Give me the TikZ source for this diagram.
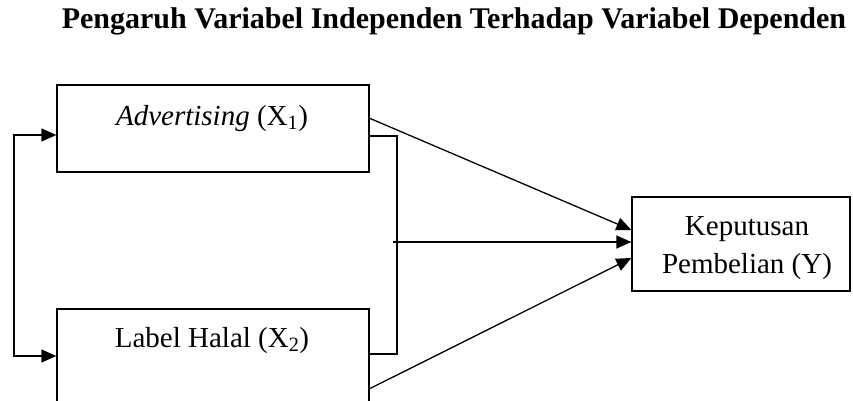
\documentclass[tikz,border=0pt]{standalone}
\usepackage{fontspec}
\setmainfont{Liberation Serif}
\usetikzlibrary{arrows.meta}
\tikzset{
  box/.style={draw, line width=1.3pt, rectangle, inner sep=0pt},
  lbl/.style={font=\fontsize{29}{38}\selectfont, inner sep=0pt, align=center, anchor=base},
  wire/.style={line width=1.3pt},
  tip/.tip={Triangle[length=15pt,width=13pt]},
  arr/.style={line width=1.3pt, -tip},
}
\begin{document}
\begin{tikzpicture}[x=1pt,y=-1pt]
  \useasboundingbox (0,0) rectangle (853,401);
  \begin{scope}
    \clip (0,0) rectangle (853,401);
    % title
    \node[font=\fontsize{30}{36}\selectfont\bfseries, inner sep=0pt, anchor=base] (title) at (454,29)
      {Pengaruh Variabel Independen Terhadap Variabel Dependen};
    % boxes
    \node[box, minimum width=312pt, minimum height=87pt] (x1) at (213,128.5) {};
    \node[box, minimum width=312pt, minimum height=120pt] (x2) at (213,369) {};
    \node[box, minimum width=218pt, minimum height=94pt] (y) at (741,244) {};
    % labels
    \node[lbl] (tx1) at (212,125) {\textit{Advertising} (X\textsubscript{1})};
    \node[lbl] (tx2) at (212,347) {Label Halal (X\textsubscript{2})};
    \node[lbl] (ty1) at (747,235) {Keputusan};
    \node[lbl] (ty2) at (747,273) {Pembelian (Y)};
    % correlation loop on the left
    \coordinate (la) at (14,135);
    \coordinate (lb) at (14,356);
    \draw[wire, tip-tip]
      (x1.west |- la) -- (la) -- (lb) -- (x2.west |- lb);
    % joint bracket on the right
    \coordinate (ba) at (397,136);
    \coordinate (bb) at (397,354);
    \coordinate (bm) at (393,242);
    \draw[wire] (x1.east |- ba) -- (ba) -- (bb) -- (x2.east |- bb);
    % influence arrows
    \coordinate (s1) at (369,118);
    \coordinate (s2) at (369,389);
    \draw[arr] (s1) -- (y.west |- 0,230);
    \draw[arr] (bm) -- (y.west |- bm);
    \draw[arr] (s2) -- (y.west |- 0,258);
  \end{scope}
\end{tikzpicture}
\end{document}
